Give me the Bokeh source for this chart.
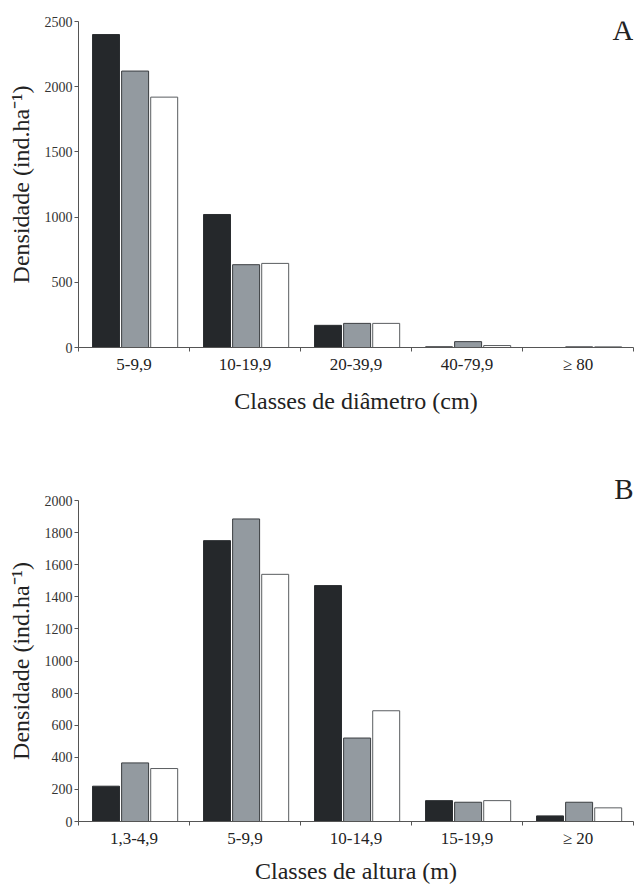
from bokeh.plotting import figure
from bokeh.layouts import column
from bokeh.models import Range1d, FixedTicker, ColumnDataSource, Label
from bokeh.transform import dodge
from bokeh.embed import file_html
from bokeh.resources import INLINE

# ---- data ----
diam_classes = ["5-9,9", "10-19,9", "20-39,9", "40-79,9", "≥ 80"]
diam_s1 = [2400, 1020, 170, 5, 0]
diam_s2 = [2120, 635, 185, 45, 5]
diam_s3 = [1920, 645, 185, 15, 5]
diam_yticks = [0, 500, 1000, 1500, 2000, 2500]

alt_classes = ["1,3-4,9", "5-9,9", "10-14,9", "15-19,9", "≥ 20"]
alt_s1 = [220, 1750, 1470, 130, 35]
alt_s2 = [365, 1885, 520, 120, 120]
alt_s3 = [330, 1540, 690, 130, 85]
alt_yticks = [0, 200, 400, 600, 800, 1000, 1200, 1400, 1600, 1800, 2000]

FONT = "Liberation Serif"
TXT = "#222222"
AX = "#555555"


def panel(classes, s1, s2, s3, yticks, xlabel, height,
          btop, bbot, title_standoff):
    n = len(classes)
    idx = list(range(n))
    src = ColumnDataSource(dict(x=idx, s1=s1, s2=s2, s3=s3))
    p = figure(width=635, height=height, output_backend="svg",
               toolbar_location=None,
               x_range=Range1d(-0.5, n - 0.5),
               y_range=Range1d(0, yticks[-1]),
               min_border_left=78, min_border_right=2,
               min_border_top=btop, min_border_bottom=bbot)
    p.outline_line_color = None
    p.xgrid.visible = False
    p.ygrid.visible = False
    p.background_fill_color = "white"
    p.border_fill_color = "white"

    w = 0.243
    off = 0.262
    p.vbar(x=dodge("x", -off + 0.01, range=p.x_range), top="s1", bottom=0, width=w,
           source=src, fill_color="#25282b", line_color="#2a2d30", line_width=1)
    p.vbar(x=dodge("x", 0.01, range=p.x_range), top="s2", bottom=0, width=w,
           source=src, fill_color="#939aa0", line_color="#3a3d40", line_width=1)
    p.vbar(x=dodge("x", off + 0.01, range=p.x_range), top="s3", bottom=0, width=w,
           source=src, fill_color="#ffffff", line_color="#5a5d60", line_width=1)

    xa = p.xaxis[0]
    xa.ticker = FixedTicker(ticks=idx, minor_ticks=[i - 0.5 for i in range(n + 1)])
    xa.major_label_overrides = {i: c for i, c in zip(idx, classes)}
    xa.major_tick_in = 0
    xa.major_tick_out = 0
    xa.minor_tick_in = 0
    xa.minor_tick_out = 4
    xa.major_label_standoff = 3
    xa.major_label_text_font = FONT
    xa.major_label_text_font_size = "17px"
    xa.major_label_text_color = TXT
    xa.axis_label = xlabel
    xa.axis_label_text_font = FONT
    xa.axis_label_text_font_size = "24px"
    xa.axis_label_text_font_style = "normal"
    xa.axis_label_text_color = TXT
    xa.axis_label_standoff = title_standoff
    xa.axis_line_color = AX
    xa.minor_tick_line_color = AX

    ya = p.yaxis[0]
    ya.ticker = FixedTicker(ticks=yticks, minor_ticks=[])
    ya.major_tick_in = 0
    ya.major_tick_out = 4
    ya.major_label_standoff = 2
    ya.major_label_text_font = FONT
    ya.major_label_text_font_size = "14px"
    ya.major_label_text_color = "#333333"
    ya.axis_label = "Densidade (ind.ha⁻¹)"
    ya.axis_label_text_font = FONT
    ya.axis_label_text_font_size = "24px"
    ya.axis_label_text_font_style = "normal"
    ya.axis_label_text_color = TXT
    ya.axis_label_standoff = 8
    ya.axis_line_color = AX
    ya.major_tick_line_color = AX
    return p


pa = panel(diam_classes, diam_s1, diam_s2, diam_s3, diam_yticks,
           "Classes de diâmetro (cm)", 417, 21, 70, 11)
# panel letter A inside the frame, top right
pa.add_layout(Label(x=len(diam_classes) - 0.5, y=diam_yticks[-1], text="A",
                    text_align="right", text_baseline="alphabetic", y_offset=-8,
                    text_font=FONT, text_font_size="29px", text_color=TXT))

pb = panel(alt_classes, alt_s1, alt_s2, alt_s3, alt_yticks,
           "Classes de altura (m)", 469, 83, 64, 7)
# panel letter B as a right-aligned title just above the frame
pb.title.text = "B"
pb.title.align = "right"
pb.title.text_font = FONT
pb.title.text_font_size = "29px"
pb.title.text_font_style = "normal"
pb.title.text_color = TXT
pb.title.standoff = -9

layout = column(pa, pb, spacing=0)
open("out.html", "w").write(file_html(layout, INLINE))
